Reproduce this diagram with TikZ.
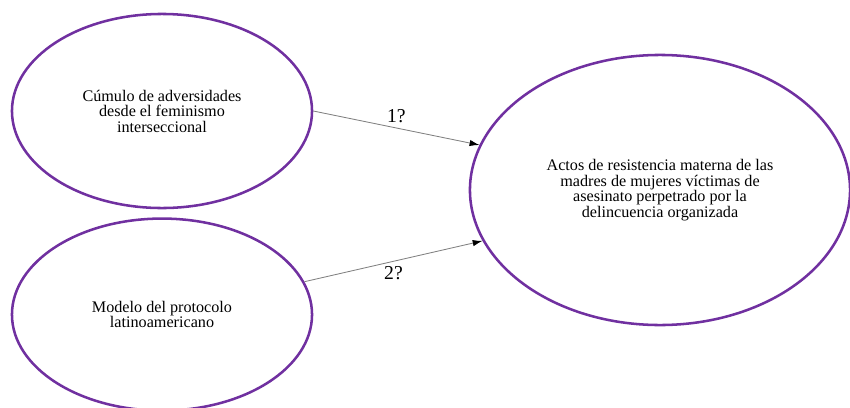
\documentclass[tikz,border=0pt]{standalone}
\usepackage{fontspec}
\setmainfont{Liberation Serif}
\usetikzlibrary{shapes.geometric}
\usetikzlibrary{positioning}
\usetikzlibrary{arrows.meta}
\definecolor{varpurple}{RGB}{112,48,160}

\begin{document}
\begin{tikzpicture}[x=0.025cm, y=-0.025cm,
      var/.style={ellipse, draw=varpurple, line width=1.8pt, inner sep=0pt,
        align=center, font=\fontsize{11.5}{11}\selectfont},
      rel/.style={draw=gray, line width=0.6pt, -{Latex[length=7pt,width=4.5pt,black]}},
      lbl/.style={font=\fontsize{14}{14}\selectfont},
      ]
      \useasboundingbox (0,0) rectangle (850,408);
      \node[var, minimum width=7.5cm, minimum height=4.85cm] (acum) at (162,111)
        {C\'umulo de adversidades\\desde el feminismo\\interseccional};
      \node[var, minimum width=7.5cm, minimum height=4.8cm, below=0.2cm of acum] (prot)
        {Modelo del protocolo\\latinoamericano};
      \node[var, minimum width=9.5cm, minimum height=6.75cm] (actos) at (660,190)
        {Actos de resistencia materna de las\\madres de mujeres v\'ictimas de\\asesinato perpetrado por la\\delincuencia organizada};
      \draw[rel] (acum.east) -- node[lbl, above] {1?} (actos.166);
      \draw[rel] (prot.13) -- node[lbl, below] {2?} (actos.196);
    \end{tikzpicture}
\end{document}
